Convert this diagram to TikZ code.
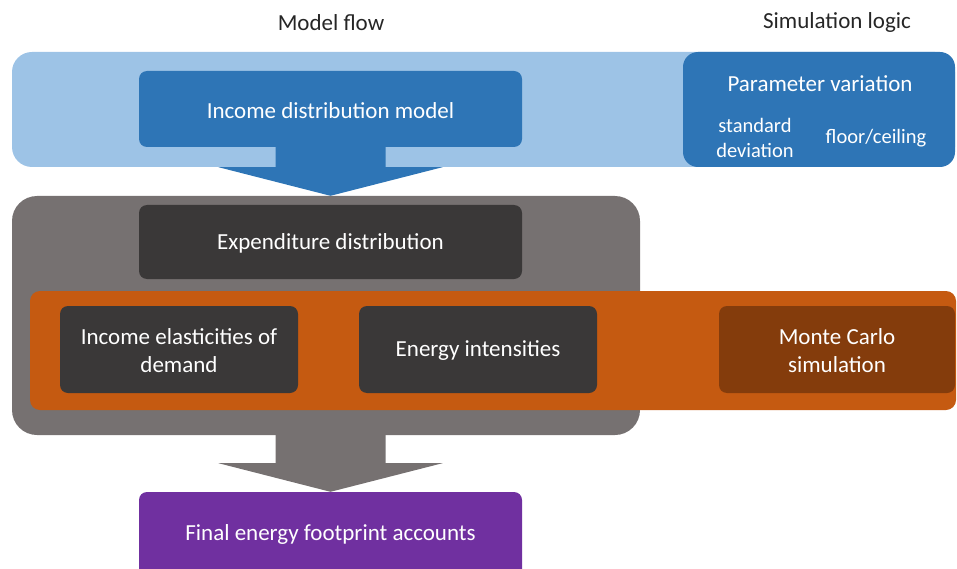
\documentclass[tikz,border=0pt]{standalone}
\usepackage{fontspec}
\setmainfont{Carlito}
\usetikzlibrary{calc}
\definecolor{bandblue}{HTML}{9DC3E6}
\definecolor{midblue}{HTML}{2E75B6}
\definecolor{greybox}{HTML}{767171}
\definecolor{darkbox}{HTML}{3A3838}
\definecolor{orng}{HTML}{C55A11}
\definecolor{brownbox}{HTML}{843C0C}
\definecolor{purp}{HTML}{7030A0}
\definecolor{titletext}{HTML}{262626}
\begin{document}
\begin{tikzpicture}[x=1pt,y=-1pt,
  box/.style={rounded corners=8pt, text=white, font=\fontsize{23}{28}\selectfont, align=center, inner sep=0pt},
  plain/.style={inner sep=0pt, align=center},
  title/.style={inner sep=0pt, text=titletext, font=\fontsize{23}{28}\selectfont},
  lbl/.style={inner sep=0pt, text=white, align=center, font=\fontsize{23}{28}\selectfont},
  small/.style={inner sep=0pt, text=white, align=center, font=\fontsize{20.5}{25}\selectfont},
]
\useasboundingbox (0,0) rectangle (957,569);
\clip (0,0) rectangle (957,569);
% titles
\node[title] (t1) at (331,22.5) {Model flow};
\node[title] (t2) at (837,22.5) {Simulation logic};
% top band
\node[plain, fill=bandblue, rounded corners=20pt, minimum width=943pt, minimum height=115pt] (band) at (483.5,109.5) {};
\node[plain, fill=midblue, rounded corners=8pt, minimum width=383pt, minimum height=76pt] (inc) at (330.5,109) {};
\node[lbl] (inct) at (330.5,110.5) {Income distribution model};
\node[plain, fill=midblue, rounded corners=15pt, minimum width=272pt, minimum height=115pt] (par) at (819,109.5) {};
\node[lbl] (pv) at (820,84) {Parameter variation};
\node[small] (sd) at (755,138) {standard\\deviation};
\node[small] (fc) at (876,138) {floor/ceiling};
% grey block
\node[plain, fill=greybox, rounded corners=25pt, minimum width=628pt, minimum height=239pt] (grey) at (326,315.5) {};
\node[box, fill=darkbox, minimum width=383pt, minimum height=74pt] (exp) at (330.5,242) {};
\node[lbl] (expt) at (330.5,243) {Expenditure distribution};
% orange band
\node[plain, fill=orng, rounded corners=10pt, minimum width=926pt, minimum height=119pt] (ob) at (493,350.5) {};
\node[box, fill=darkbox, minimum width=238pt, minimum height=87pt] (ela) at (179,349.5) {};
\node[lbl] (elat) at (179,350.5) {Income elasticities of\\demand};
\node[box, fill=darkbox, minimum width=238pt, minimum height=87pt] (ene) at (478,349.5) {};
\node[lbl] (enet) at (478,351) {Energy intensities};
\node[box, fill=brownbox, minimum width=236pt, minimum height=87pt] (mc) at (837,349.5) {};
\node[lbl] (mct) at (837,351) {Monte Carlo\\simulation};
% final box
\node[box, fill=purp, minimum width=383pt, minimum height=86pt] (fin) at (330.5,535) {};
\node[lbl] (fint) at (330.5,534.5) {Final energy footprint accounts};
% arrows
\fill[midblue] ($(inc.south)+(-55,-2)$) -- ($(inc.south)+(-55,20)$) -- ($(inc.south)+(-112,20)$) -- (inc.south |- grey.north) -- ($(inc.south)+(112,20)$) -- ($(inc.south)+(55,20)$) -- ($(inc.south)+(55,-2)$) -- cycle;
\fill[greybox] ($(inc.south |- grey.south)+(-55,-2)$) -- ($(inc.south |- grey.south)+(-55,28)$) -- ($(inc.south |- grey.south)+(-112,28)$) -- (inc.south |- fin.north) -- ($(inc.south |- grey.south)+(112,28)$) -- ($(inc.south |- grey.south)+(55,28)$) -- ($(inc.south |- grey.south)+(55,-2)$) -- cycle;
\end{tikzpicture}
\end{document}
